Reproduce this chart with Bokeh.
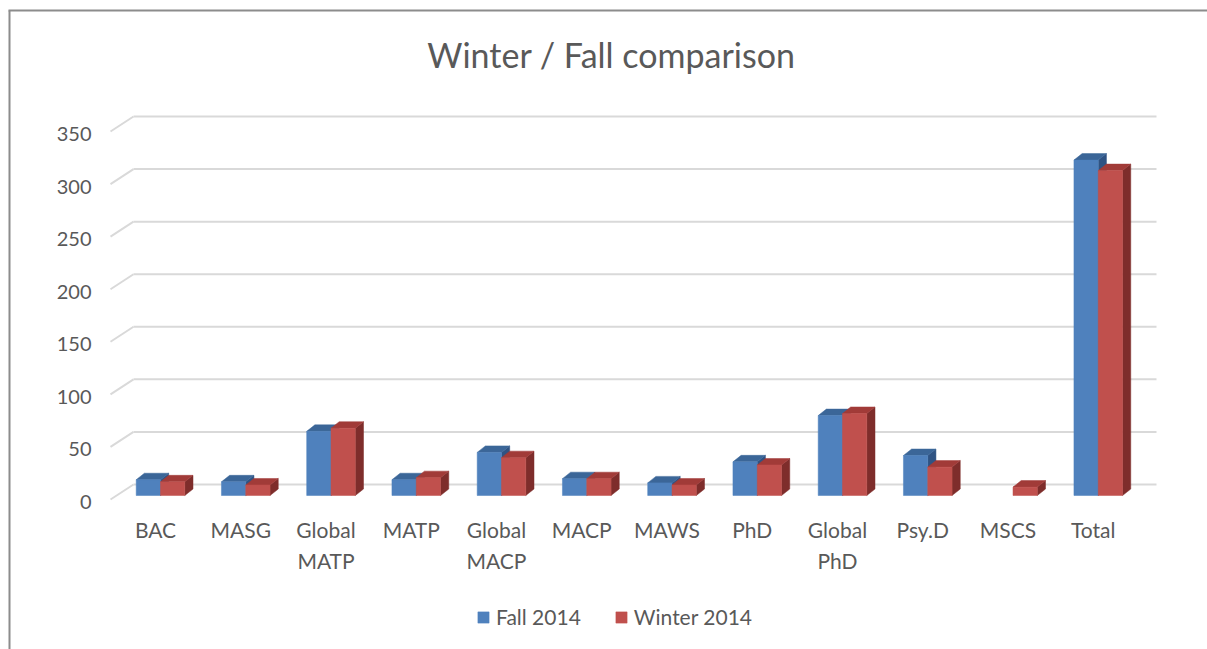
from bokeh.plotting import figure
from bokeh.models import Range1d, Legend, LegendItem
from bokeh.core.properties import value
from bokeh.embed import file_html
from bokeh.resources import INLINE

# ---------------- data ----------------
categories = ["BAC", "MASG", "Global\nMATP", "MATP", "Global\nMACP", "MACP",
              "MAWS", "PhD", "Global\nPhD", "Psy.D", "MSCS", "Total"]
fall_2014 = [15, 13, 61, 15, 41, 16, 12, 32, 76, 38, 0, 319]
winter_2014 = [13, 10, 64, 17, 36, 16, 10, 29, 78, 27, 8, 309]
series_names = ["Fall 2014", "Winter 2014"]
y_ticks = [0, 50, 100, 150, 200, 250, 300, 350]
title_text = "Winter / Fall comparison"

# ---------------- style / geometry ----------------
FONT = "Lato"
TXT = "#595959"
W, H = 1207, 649
K = 368.0 / 350.0          # px per unit
def v_of(page_y):
    return (499.0 - page_y) / K

front_cols = ["#4f81bd", "#c0504d"]
top_cols = ["#3b6698", "#a13b38"]
side_cols = ["#2f5383", "#7e2d2b"]

x0 = 135.7
step = 85.25
bw = 24.3
dx = 8.2
dyv = 6.5 / K
base = 4.0 / K
grid_off = 15.0 / K

p = figure(width=W, height=H, x_range=Range1d(0, W),
           y_range=Range1d(v_of(H), v_of(0)),
           x_axis_type=None, y_axis_type=None,
           toolbar_location=None, output_backend="svg", min_border=0)
p.outline_line_color = None
p.background_fill_color = "white"
p.border_fill_color = "white"

# gridlines (back wall + floor diagonal)
gx0, gx1, gxf = 133.0, 1156.0, 110.0
p.segment(x0=[gx0] * len(y_ticks), y0=[t + grid_off for t in y_ticks],
          x1=[gx1] * len(y_ticks), y1=[t + grid_off for t in y_ticks],
          line_color="#d9d9d9", line_width=2)
p.segment(x0=[gxf] * len(y_ticks), y0=y_ticks,
          x1=[gx0] * len(y_ticks), y1=[t + grid_off for t in y_ticks],
          line_color="#d9d9d9", line_width=2)

# y tick labels
p.text(x=[91] * len(y_ticks), y=[t - 2.5 / K for t in y_ticks],
       text=[str(t) for t in y_ticks], text_align="right",
       text_baseline="alphabetic", text_font=value(FONT),
       text_font_size="20px", text_color=TXT)

# bars
front_renderers = []
for s, vals in enumerate([fall_2014, winter_2014]):
    sx, sy, tx, ty = [], [], [], []
    fl, fr, fb, ft = [], [], [], []
    for i, v in enumerate(vals):
        if v <= 0:
            continue
        left = x0 + i * step + s * bw
        right = left + bw
        top = base + v
        fl.append(left); fr.append(right); fb.append(base); ft.append(top)
        tx.append([left, left + dx, right + dx, right])
        ty.append([top, top + dyv, top + dyv, top])
        sx.append([right, right + dx, right + dx, right])
        sy.append([base, base + dyv, top + dyv, top])
    p.patches(xs=sx, ys=sy, fill_color=side_cols[s], line_color=side_cols[s], line_width=0.5)
    p.patches(xs=tx, ys=ty, fill_color=top_cols[s], line_color=top_cols[s], line_width=0.5)
    r = p.quad(left=fl, right=fr, bottom=fb, top=ft,
               fill_color=front_cols[s], line_color=front_cols[s], line_width=0.5)
    front_renderers.append(r)

# category labels
l1x, l1y, l1t, l2x, l2y, l2t = [], [], [], [], [], []
for i, c in enumerate(categories):
    parts = c.split("\n")
    cx = x0 + i * step + bw - 5
    l1x.append(cx); l1y.append(v_of(529)); l1t.append(parts[0])
    if len(parts) > 1:
        l2x.append(cx); l2y.append(v_of(560)); l2t.append(parts[1])
p.text(x=l1x, y=l1y, text=l1t, text_align="center", text_baseline="alphabetic",
       text_font=value(FONT), text_font_size="21px", text_color=TXT)
p.text(x=l2x, y=l2y, text=l2t, text_align="center", text_baseline="alphabetic",
       text_font=value(FONT), text_font_size="21px", text_color=TXT)

# title
p.text(x=[611], y=[v_of(54)], text=[title_text], text_align="center",
       text_baseline="alphabetic", text_font=value(FONT),
       text_font_size="34px", text_color=TXT)

# border (top + left)
p.segment(x0=[9, 8], y0=[v_of(H), v_of(10)], x1=[9, W], y1=[v_of(10), v_of(10)],
          line_color="#8c8c8c", line_width=2)

legend = Legend(items=[LegendItem(label=series_names[0], renderers=[front_renderers[0]]),
                       LegendItem(label=series_names[1], renderers=[front_renderers[1]])],
                orientation="horizontal", location=(476, 20),
                glyph_width=14, glyph_height=14, label_standoff=6, spacing=33,
                padding=0, margin=0, border_line_color=None,
                background_fill_alpha=0,
                label_text_font=FONT, label_text_font_size="21px",
                label_text_color=TXT)
p.add_layout(legend)

open("out.html", "w").write(file_html(p, INLINE))
